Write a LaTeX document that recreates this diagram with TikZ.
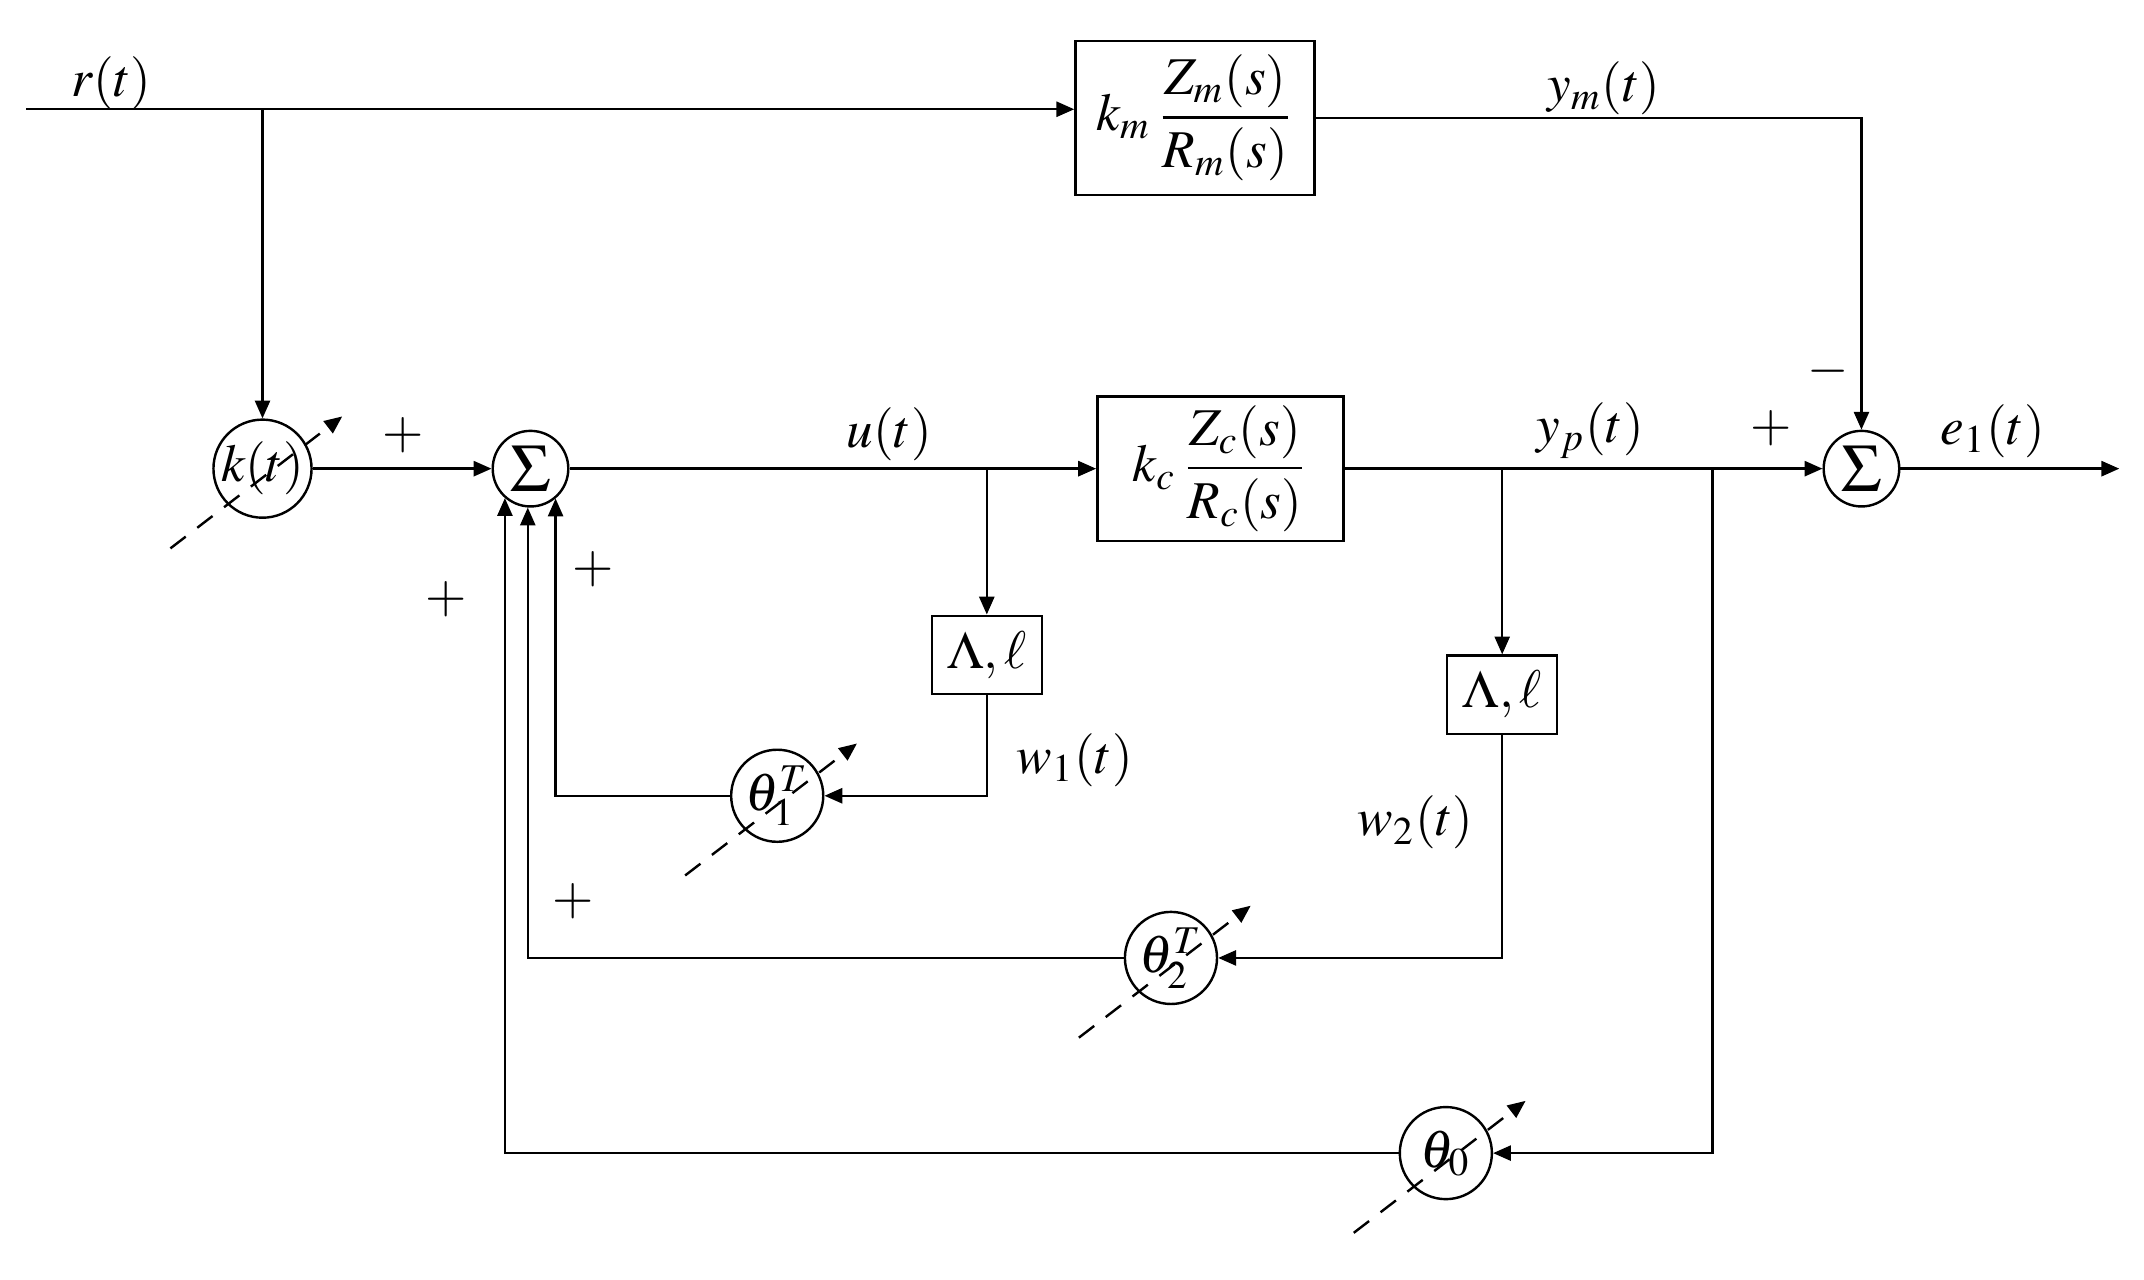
\documentclass[tikz,border=0pt]{standalone}
\usepackage{amsmath}
\usepackage{mathptmx}
\usepackage{tikz}
\usetikzlibrary{calc,arrows.meta,positioning}

\begin{document}
\begin{tikzpicture}[
    font=\fontsize{11}{13}\selectfont,
    >={Triangle[length=1.3mm,width=1.1mm]},
    line width=0.5pt,
    block/.style={
      rectangle,
      draw=black,
      inner sep=1pt
    },
    filt/.style={
      rectangle,
      draw=black,
      minimum width=0.8cm,
      minimum height=0.57cm,
      inner sep=1pt
    },
    summer/.style={
      circle,
      draw=black,
      minimum size=0.55cm,
      inner sep=0pt,
      font=\fontsize{14}{14}\selectfont
    },
    gain/.style={
      circle,
      draw=black,
      minimum size=0.67cm,
      inner sep=0pt
    },
    tune/.style={
      dash pattern=on 4pt off 3pt,
      ->
    }
  ]

    \useasboundingbox (0,0) rectangle (15.6,-9.313);

    % Reference model and plant
    \node[block, minimum width=1.74cm, minimum height=1.12cm] (model) at (8.695,-0.857) {$k_m\,\dfrac{Z_m(s)}{R_m(s)}$};
    \node[block, minimum width=1.79cm, minimum height=1.05cm] (plant) at (8.879,-3.41) {$k_c\,\dfrac{Z_c(s)}{R_c(s)}$};

    % Adjustable gains and summers
    \node[gain] (kt) at (1.91,-3.41) {$k(t)$};
    \node[summer] (sum1) at (3.86,-3.41) {$\Sigma$};
    \node[summer] (sum2) at (13.544,-3.41) {$\Sigma$};
    \node[gain] (th1) at (5.655,-5.79) {$\theta_1^T$};
    \node[gain] (th2) at (8.52,-6.97) {$\theta_2^T$};
    \node[gain] (th0) at (10.52,-8.39) {$\theta_0$};

    % Auxiliary filters
    \node[filt] (lam1) at (7.18,-4.765) {$\Lambda,\ell$};
    \node[filt] (lam2) at (10.93,-5.055) {$\Lambda,\ell$};

    % Branch points
    \coordinate (rin) at (0.19,-0.795);
    \coordinate (ubr) at (lam1 |- sum1);
    \coordinate (ybr) at (lam2 |- sum1);
    \coordinate (fbr) at (12.46,-3.41);
    \coordinate (eout) at (15.42,-3.41);

    % Forward paths
    \draw[->] (rin) -- (rin -| model.west);
    \draw[->] (rin -| kt) -- (kt);
    \draw[->] (model.east) -| (sum2);
    \draw[->] (kt) -- (sum1);
    \draw[->] (sum1) -- (plant);
    \draw[->] (plant) -- (sum2);
    \draw[->] (sum2) -- (eout);

    % Feedback paths
    \draw[->] (ubr) -- (lam1);
    \draw[->] (ybr) -- (lam2);
    \draw[->] (lam1) |- (th1);
    \draw[->] (lam2) |- (th2);
    \draw[->] (fbr) |- (th0);
    \draw[->] (th1) -| (sum1.310);
    \draw[->] (th2) -| (sum1.266);
    \draw[->] (th0) -| (sum1.229);

    % Adaptation arrows
    \foreach \g in {kt,th1,th2,th0} {
      \draw[tune] ([shift={(-0.67,-0.58)}]\g.center) -- ([shift={(0.58,0.38)}]\g.center);
    }

    % Signal labels
    \node (rlab) at (0.81,-0.606) {$r(t)$};
    \node (ymlab) at (11.67,-0.64) {$y_m(t)$};
    \node (ulab) at (6.47,-3.16) {$u(t)$};
    \node (yplab) at (11.57,-3.13) {$y_p(t)$};
    \node (elab) at (14.50,-3.14) {$e_1(t)$};
    \node (w1lab) at (7.82,-5.53) {$w_1(t)$};
    \node (w2lab) at (10.30,-5.986) {$w_2(t)$};

    % Signs at the summers
    \node (sgk) at (2.936,-3.164) {$+$};
    \node (sg1) at (4.314,-4.144) {$+$};
    \node (sg0) at (3.244,-4.36) {$+$};
    \node (sg2) at (4.17,-6.557) {$+$};
    \node (sgp) at (12.888,-3.113) {$+$};
    \node (sgm) at (13.30,-2.70) {$-$};

  \end{tikzpicture}
\end{document}
